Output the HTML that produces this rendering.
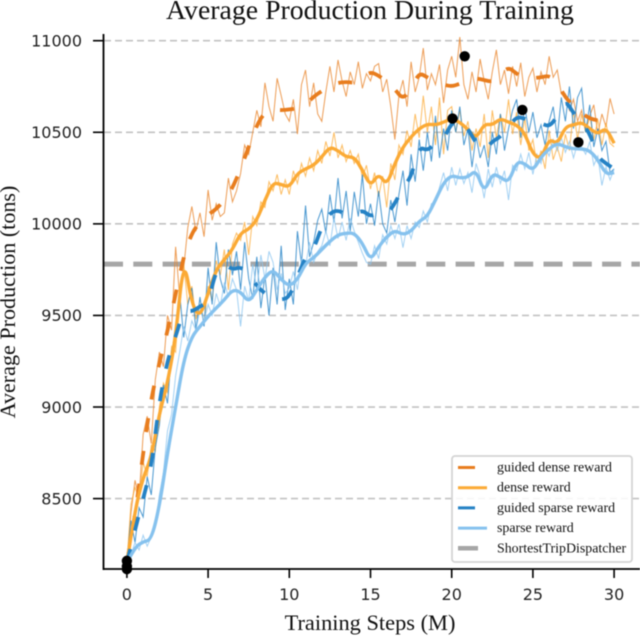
<!DOCTYPE html>
<html>
<head>
<meta charset="utf-8">
<style>
html,body{margin:0;padding:0;background:#fff;width:640px;height:636px;overflow:hidden}
svg{display:block;filter:blur(0.45px)}
.s{font-family:"Liberation Serif",serif;fill:#111}
.d{font-family:"DejaVu Sans",sans-serif;fill:#222}
</style>
</head>
<body>
<svg id="chart" width="640" height="636" viewBox="0 0 640 636" xmlns="http://www.w3.org/2000/svg"></svg>
<script>
const xTicks = [0, 5, 10, 15, 20, 25, 30];
const yTicks = [8500, 9000, 9500, 10000, 10500, 11000];
const baselineValue = 9780;
const rawStep = 0.25;
const smoothStep = 0.5;

const guidedDenseRaw = [
8150,8420,8600,8500,8850,8950,8800,9150,9300,9220,9500,9420,9875,9600,9760,9980,10095,9960,10060,9930,
10185,10020,10110,10040,10060,10250,10120,10180,10275,10430,10380,10500,10620,10530,10770,10640,10560,10795,10700,10600,
10560,10680,10490,10760,10840,10640,10770,10600,10560,10720,10860,10720,10895,10780,10695,10830,10760,10885,10740,10820,
10780,10860,10875,10720,10790,10640,10460,10700,10785,10640,10885,10720,10800,10960,10730,10820,10760,10870,10660,10840,
10915,10800,11020,10760,10680,10830,10720,10900,10780,10680,10830,10950,10760,10840,10710,10860,10750,10880,10695,10800,
10850,10720,10830,10760,10915,10800,10840,10710,10710,10620,10680,10560,10620,10500,10590,10650,10490,10600,10530,10685,
10600];
const denseRaw = [
8150,8470,8560,8500,8700,8620,8790,8760,9000,9130,9080,9330,9300,9620,9780,9560,9660,9480,9560,9460,
9660,9580,9800,9720,9860,9640,9890,9950,9910,10010,9830,10040,9990,10120,10090,10230,10180,10270,10160,10240,
10160,10290,10220,10330,10260,10360,10290,10400,10330,10450,10370,10500,10360,10430,10340,10400,10330,10380,10250,10320,
10190,10280,10150,10260,10090,10330,10240,10430,10380,10510,10420,10600,10470,10700,10500,10640,10430,10690,10380,10620,
10640,10500,10620,10480,10560,10400,10520,10420,10600,10360,10620,10470,10600,10500,10680,10490,10610,10430,10580,10400,
10460,10320,10400,10300,10510,10350,10420,10340,10490,10400,10620,10460,10600,10500,10590,10460,10570,10430,10550,10440,
10420];
const guidedSparseRaw = [
8150,8380,8260,8450,8400,8620,8520,8780,8900,9120,9020,9300,9420,9620,9380,9560,9650,9420,9600,9440,
9760,9560,9900,9700,9620,9860,9720,9850,9640,9900,9700,9590,9820,9540,9720,9500,9760,9560,9880,9530,
9700,9560,9960,9780,10100,9820,9900,10020,10080,9950,10160,10010,10250,10030,10180,9960,10175,10040,10270,10000,
10110,9990,10180,10000,9950,10130,10010,10160,10290,10100,10380,10230,10460,10290,10500,10340,10590,10360,10520,10400,
10620,10500,10640,10430,10520,10310,10480,10360,10430,10310,10500,10380,10600,10400,10520,10620,10680,10470,10640,10500,
10610,10470,10540,10430,10560,10640,10470,10690,10560,10750,10520,10690,10740,10500,10650,10420,10520,10400,10450,10280,
10300];
const sparseRaw = [
8150,8190,8260,8220,8300,8240,8290,8350,8520,8640,8870,8960,9170,9300,9440,9360,9470,9420,9530,9470,
9560,9500,9620,9550,9680,9600,9700,9640,9440,9660,9580,9780,9640,9830,9700,9850,9790,9640,9730,9620,
9650,9740,9640,9810,9770,9900,9790,9850,9880,9960,9880,10030,9920,10010,9910,10030,9960,9900,9840,9790,
9780,9880,9810,9940,9890,9990,9920,10000,9870,9990,9920,10010,9980,10070,10010,10110,10120,10200,10280,10180,
10310,10210,10300,10220,10280,10170,10330,10260,10140,10300,10200,10310,10220,10290,10130,10320,10290,10380,10300,10390,
10270,10380,10330,10420,10370,10460,10400,10470,10390,10450,10360,10440,10420,10380,10450,10320,10370,10210,10310,10240,
10300];

const guidedDenseSmooth = [8150,8400,8750,9050,9240,9415,9615,9825,9950,10010,10050,10080,10130,10195,10300,10420,10540,10610,10625,10620,10625,10630,10650,10695,10725,10755,10770,10775,10770,10800,10830,10810,10775,10735,10680,10740,10825,10800,10775,10760,10750,10765,10780,10795,10785,10775,10820,10855,10820,10790,10795,10800,10810,10770,10690,10645,10605,10575,10565,10550,10585];
const denseSmooth = [8150,8440,8615,8725,8965,9130,9380,9820,9560,9490,9620,9750,9805,9860,9950,9970,10020,10130,10225,10215,10200,10275,10300,10320,10365,10420,10400,10365,10365,10295,10205,10275,10210,10330,10420,10475,10520,10545,10540,10555,10575,10555,10515,10465,10545,10540,10575,10555,10540,10495,10380,10355,10465,10435,10530,10540,10555,10520,10490,10525,10440];
const guidedSparseSmooth = [8150,8330,8500,8670,9030,9255,9385,9530,9520,9550,9570,9750,9780,9750,9765,9730,9660,9620,9595,9585,9600,9710,9820,9860,9985,10060,10075,10050,10050,10075,10040,10060,10050,10110,10200,10255,10420,10400,10440,10465,10550,10575,10520,10440,10400,10450,10475,10530,10585,10575,10555,10550,10530,10585,10675,10605,10550,10495,10365,10330,10300];
const sparseSmooth = [8150,8235,8265,8275,8455,8750,9000,9255,9385,9440,9495,9540,9585,9640,9630,9570,9640,9710,9750,9695,9660,9695,9785,9815,9860,9905,9940,9950,9950,9895,9800,9875,9930,9965,9940,9960,10015,10040,10130,10225,10265,10250,10255,10295,10170,10275,10255,10225,10340,10330,10290,10365,10410,10440,10420,10410,10410,10400,10350,10270,10280];

const markerX = [0, 0, 0, 20.05, 20.8, 24.35, 27.8];
const markerY = [8160, 8130, 8115, 10575, 10915, 10622, 10445];
const legendLabels = ["guided dense reward", "dense reward", "guided sparse reward", "sparse reward", "ShortestTripDispatcher"];

const NS = "http://www.w3.org/2000/svg";
const svg = document.getElementById("chart");
function xs(v){ return 126.9 + v * 16.24; }
function ys(v){ return 40.7 + (11000 - v) * 0.18316; }
function make(tag, attrs, text){
  const el = document.createElementNS(NS, tag);
  for (const k in attrs) el.setAttribute(k, attrs[k]);
  if (text !== undefined) el.textContent = text;
  svg.appendChild(el);
  return el;
}
function pathOf(values, step){
  return values.map((v, i) => (i ? "L" : "M") + xs(i * step).toFixed(2) + " " + ys(v).toFixed(2)).join("");
}
function curveOf(values, step){
  let d = "M" + xs(0).toFixed(2) + " " + ys(values[0]).toFixed(2);
  for (let i = 1; i < values.length - 1; i++) {
    const mx = xs((i + 0.5) * step), my = ys((values[i] + values[i + 1]) / 2);
    d += "Q" + xs(i * step).toFixed(2) + " " + ys(values[i]).toFixed(2) + " " + mx.toFixed(2) + " " + my.toFixed(2);
  }
  const n = values.length - 1;
  return d + "L" + xs(n * step).toFixed(2) + " " + ys(values[n]).toFixed(2);
}

/* grid */
yTicks.forEach(t => {
  const g = make("line", {x1:104, x2:640, y1:ys(t), y2:ys(t), stroke:"#c2c2c2", "stroke-width":1.6, "stroke-dasharray":"7 4"});
  
  
});

/* baseline */
const bl = make("line", {x1:104, x2:640, y1:ys(baselineValue), y2:ys(baselineValue), stroke:"#a6a6a6", "stroke-width":5, "stroke-dasharray":"19 10.3"});



/* raw series */
const r1 = make("path", {d:pathOf(guidedDenseRaw, rawStep), fill:"none", stroke:"#e8842c", "stroke-width":1, "stroke-opacity":0.8});


const r2 = make("path", {d:pathOf(denseRaw, rawStep), fill:"none", stroke:"#fbac3c", "stroke-width":1, "stroke-opacity":0.8});


const r3 = make("path", {d:pathOf(guidedSparseRaw, rawStep), fill:"none", stroke:"#2a86c8", "stroke-width":1, "stroke-opacity":0.85});


const r4 = make("path", {d:pathOf(sparseRaw, rawStep), fill:"none", stroke:"#8cc6f0", "stroke-width":1, "stroke-opacity":0.8});



/* smooth series */
const s1 = make("path", {d:curveOf(guidedDenseSmooth, smoothStep), fill:"none", stroke:"#e87d1e", "stroke-width":3.8, "stroke-dasharray":"14 19"});


const s2 = make("path", {d:curveOf(denseSmooth, smoothStep), fill:"none", stroke:"#fbaa35", "stroke-width":3.4, "stroke-linejoin":"round"});


const s3 = make("path", {d:curveOf(guidedSparseSmooth, smoothStep), fill:"none", stroke:"#2582c5", "stroke-width":3.8, "stroke-dasharray":"14 19"});


const s4 = make("path", {d:curveOf(sparseSmooth, smoothStep), fill:"none", stroke:"#86c2ee", "stroke-width":3.4, "stroke-linejoin":"round"});



/* markers */
markerX.forEach((x, i) => {
  const m = make("circle", {cx:xs(x), cy:ys(markerY[i]), r:5.2, fill:"#000"});
  
  
});

/* axes */
const ya = make("line", {x1:103.5, x2:103.5, y1:34, y2:570, stroke:"#000", "stroke-width":1.8});


const xa = make("line", {x1:103, x2:640, y1:569, y2:569, stroke:"#000", "stroke-width":1.8});


yTicks.forEach(t => {
  const k = make("line", {x1:93, x2:103, y1:ys(t), y2:ys(t), stroke:"#000", "stroke-width":1.6});
  
  
  const l = make("text", {x:82, y:ys(t) + 5.8, "text-anchor":"end", class:"d", "font-size":16}, String(t));
  
  
});
xTicks.forEach(t => {
  const k = make("line", {x1:xs(t), x2:xs(t), y1:569, y2:578, stroke:"#000", "stroke-width":1.6});
  
  
  const l = make("text", {x:xs(t), y:600, "text-anchor":"middle", class:"d", "font-size":16}, String(t));
  
  
});

/* titles */
const ti = make("text", {x:370, y:19, "text-anchor":"middle", class:"s", "font-size":27.8}, "Average Production During Training");


const xt = make("text", {x:370, y:630, "text-anchor":"middle", class:"s", "font-size":22.4}, "Training Steps (M)");


const yt = make("text", {x:0, y:0, "text-anchor":"middle", class:"s", "font-size":22.1, transform:"translate(15 302) rotate(-90)"}, "Average Production (tons)");



/* legend */
const lb = make("rect", {x:452, y:456, width:180, height:106, rx:3, fill:"#fff", "fill-opacity":0.85, stroke:"#d4d4d4", "stroke-width":1.8});


const legendColors = ["#e87d1e", "#fbaa35", "#2582c5", "#86c2ee", "#a6a6a6"];
const legendX2 = [475, 487, 475, 487, 478];
legendLabels.forEach((name, i) => {
  const y = 467.5 + i * 20.2;
  const h = make("line", {x1:458, x2:legendX2[i], y1:y, y2:y, stroke:legendColors[i], "stroke-width":i === 4 ? 4.5 : 3});
  
  
  const t = make("text", {x:497, y:y + 4, class:"s", "font-size":13.9}, name);
  
  
});
</script>
</body>
</html>
